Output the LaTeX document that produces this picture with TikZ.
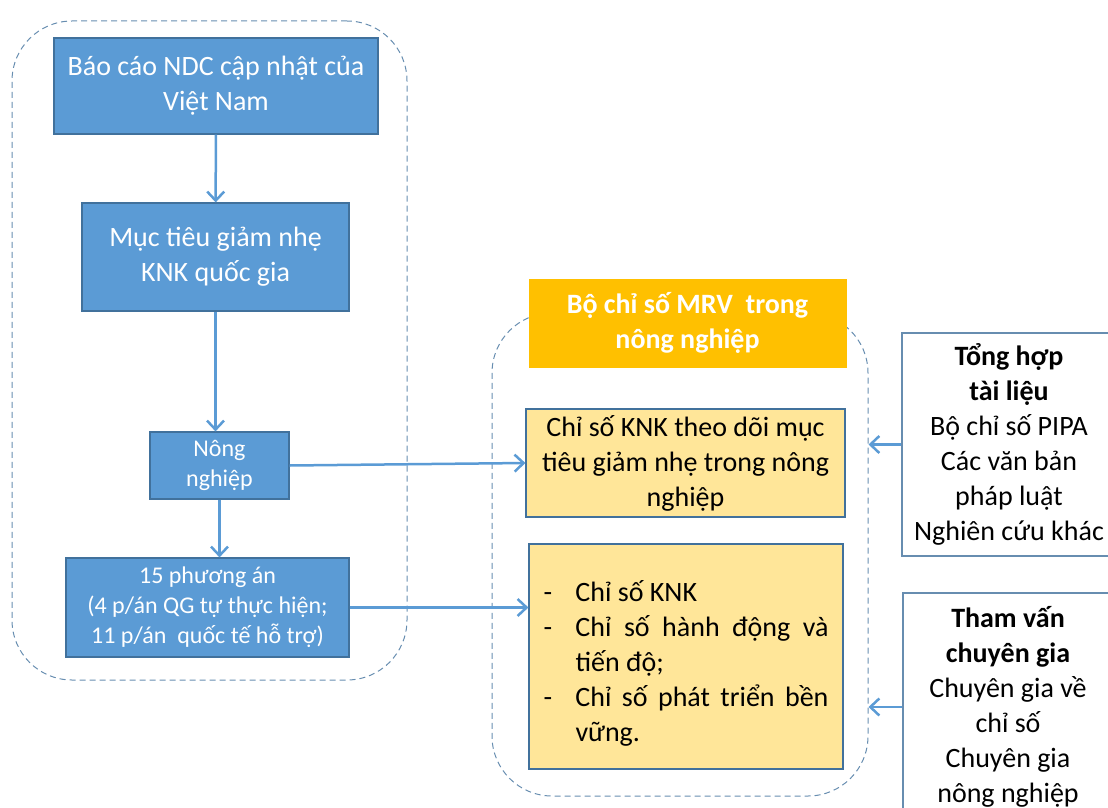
\documentclass[tikz,border=0pt]{standalone}
\usepackage{fontspec}
\setmainfont{Carlito}
\usepackage{tikz}
\usetikzlibrary{arrows.meta}
\definecolor{hopxanh}{HTML}{5B9BD5}
\definecolor{vienxanh}{HTML}{41719C}
\definecolor{hopcam}{HTML}{FFC000}
\definecolor{hopvang}{HTML}{FFE699}
\newcommand\gachdong[1]{\par\noindent\hangindent=32pt\hangafter=1\makebox[32pt][l]{-}#1\par}

\begin{document}
\begin{tikzpicture}[x=1pt,y=-1pt,
    khung/.style={draw=vienxanh!80,line width=1pt,dash pattern=on 6pt off 4pt,rounded corners=60pt,inner sep=0pt},
    hopxanh/.style={draw=vienxanh,line width=1.2pt,fill=hopxanh,text=white,align=center,inner sep=0pt,font=\fontsize{28}{35}\selectfont},
    hopnho/.style={hopxanh,font=\fontsize{24}{30}\selectfont},
    tieude/.style={draw=hopcam,fill=hopcam,text=white,align=center,inner sep=0pt,font=\fontsize{28}{35}\selectfont\bfseries},
    hopvang/.style={draw=vienxanh,line width=1.2pt,fill=hopvang,align=center,inner sep=0pt,font=\fontsize{28}{35}\selectfont},
    hoptrang/.style={draw=vienxanh!80,line width=1.2pt,fill=white,align=center,inner sep=0pt,font=\fontsize{28}{35}\selectfont},
    muiten/.style={draw=hopxanh,line width=2.5pt,-{Straight Barb[length=9pt,width=17pt]}}]
\useasboundingbox (0,0) rectangle (1108,808);
\clip (0,0) rectangle (1108,808);
\node[khung,minimum width=395pt,minimum height=659pt] (khungtrai) at (209.5,350.5) {};
\node[khung,minimum width=376pt,minimum height=483pt] (khungphai) at (680,554.5) {};
\node[hopxanh,minimum width=324pt,minimum height=96pt] (bao) at (216,86) {Báo cáo NDC cập nhật của\\Việt Nam};
\node[hopxanh,minimum width=267pt,minimum height=108pt] (muctieu) at (215.5,257) {Mục tiêu giảm nhẹ\\KNK quốc gia};
\node[hopnho,minimum width=139pt,minimum height=67pt] (nong) at (219.5,465.5) {Nông\\nghiệp};
\node[hopnho,minimum width=283pt,minimum height=99pt] (phuongan) at (207.5,607.5) {15 phương án\\(4 p/án QG tự thực hiện;\\11 p/án \ quốc tế hỗ trợ)};
\node[tieude,minimum width=317pt,minimum height=88pt] (mrv) at (687.5,323) {Bộ chỉ số MRV \ trong\\nông nghiệp};
\node[hopvang,minimum width=319pt,minimum height=108pt] (knk) at (685.5,463) {Chỉ số KNK theo dõi mục\\tiêu giảm nhẹ trong nông\\nghiệp};
\node[hopvang,align=justify,text width=285pt,inner xsep=14.5pt,minimum height=225pt] (chiso) at (686,656.5) {%
\gachdong{Chỉ số KNK}%
\gachdong{Chỉ số hành động và tiến độ;}%
\gachdong{Chỉ số phát triển bền vững.}};
\node[hoptrang,minimum width=214pt,minimum height=223pt] (tonghop) at (1009,444.5) {\textbf{Tổng hợp}\\\textbf{tài liệu}\\Bộ chỉ số PIPA\\Các văn bản\\pháp luật\\Nghiên cứu khác};
\node[hoptrang,minimum width=210pt,minimum height=228pt] (thamvan) at (1008,707) {\textbf{Tham vấn}\\\textbf{chuyên gia}\\Chuyên gia về\\chỉ số\\Chuyên gia\\nông nghiệp};
\draw[muiten] (bao) -- (muctieu);
\draw[muiten] (muctieu.south) -- (muctieu.south |- nong.north);
\draw[muiten] (nong.south) -- (nong.south |- phuongan.north);
\draw[muiten] (nong.east) -- (knk.west);
\draw[muiten] (phuongan.east) -- (phuongan.east -| chiso.west);
\draw[muiten] (tonghop.west) -- (tonghop.west -| khungphai.east);
\draw[muiten] (thamvan.west) -- (thamvan.west -| khungphai.east);
\end{tikzpicture}
\end{document}
